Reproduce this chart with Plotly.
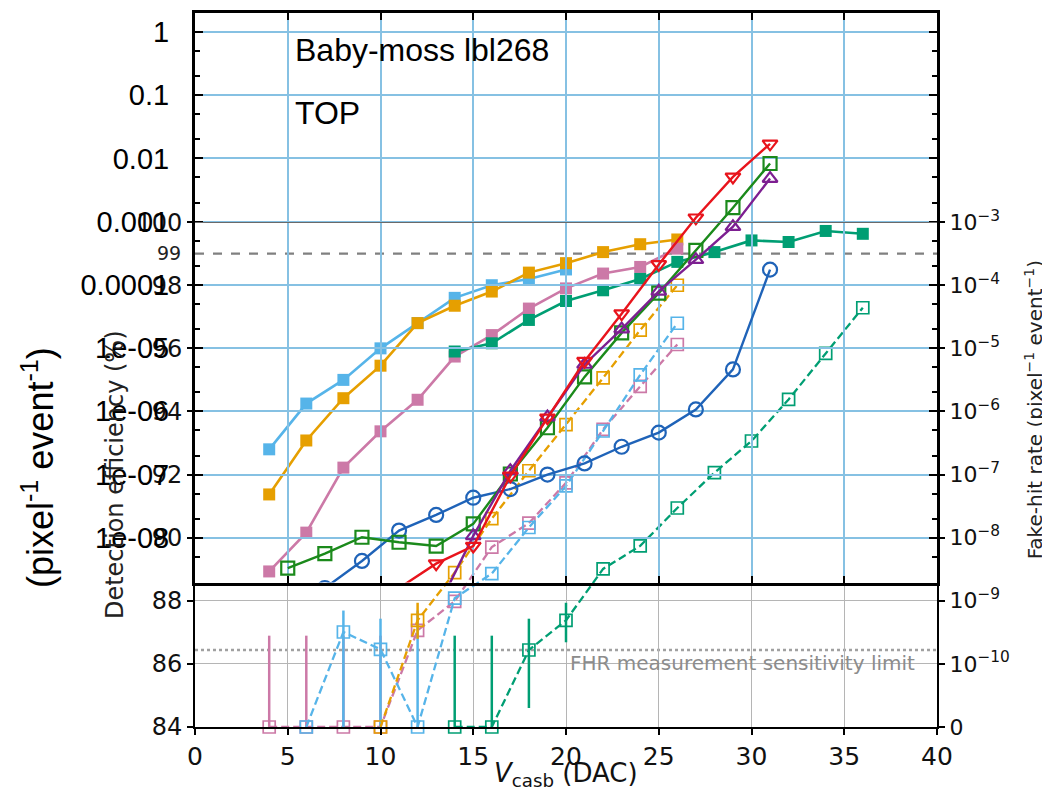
import plotly.graph_objects as go

# ---------------- data ----------------
# detection efficiency (%) vs Vcasb, filled squares
vcasb_eff_lb = [4, 6, 8, 10, 12, 14, 16, 18, 20]
eff_lb = [92.8, 94.25, 95.0, 96.0, 96.8, 97.6, 98.0, 98.2, 98.5]
vcasb_eff_or = [4, 6, 8, 10, 12, 14, 16, 18, 20, 22, 24, 26]
eff_or = [91.37, 93.08, 94.42, 95.45, 96.8, 97.35, 97.8, 98.4, 98.7, 99.05, 99.3, 99.45]
vcasb_eff_pk = [4, 6, 8, 10, 12, 14, 16, 18, 20, 22, 24, 26]
eff_pk = [88.93, 90.16, 92.22, 93.37, 94.37, 95.74, 96.42, 97.26, 97.9, 98.37, 98.58, 99.16]
vcasb_eff_gr = [14, 16, 18, 20, 22, 24, 26, 28, 30, 32, 34, 36]
eff_gr = [95.9, 96.16, 96.9, 97.5, 97.84, 98.2, 98.74, 99.05, 99.42, 99.37, 99.72, 99.63]

# fake-hit rate (pixel^-1 event^-1), open squares, dashed; 0 = no hit seen
vcasb_fhr_lb = [6, 8, 10, 12, 14, 16, 18, 20, 22, 24, 26]
fhr_lb = [0, 3.2e-10, 1.7e-10, 0, 1.1e-9, 2.7e-9, 1.45e-8, 6.6e-8, 4.9e-7, 3.8e-6, 2.5e-5]
fhr_lb_hi = [None, 7e-10, 5.2e-10, 7e-10, None, None, None, None, None, None, None]
vcasb_fhr_or = [10, 12, 14, 16, 18, 20, 22, 24, 26]
fhr_or = [0, 4.9e-10, 2.8e-9, 2.0e-8, 1.15e-7, 6.2e-7, 3.4e-6, 1.95e-5, 1.0e-4]
fhr_or_hi = [None, 9.3e-10, None, None, None, None, None, None, None]
fhr_or_lo = [None, 2.5e-10, None, None, None, None, None, None, None]
vcasb_fhr_pk = [4, 6, 8, 10, 12, 14, 16, 18, 20, 22, 24, 26]
fhr_pk = [0, 0, 0, 0, 3.4e-10, 9.8e-10, 7.1e-9, 1.7e-8, 7.4e-8, 5.2e-7, 2.5e-6, 1.15e-5]
fhr_pk_hi = [2.8e-10, 2.8e-10, 2.8e-10, 2.8e-10] + [None] * 8
vcasb_fhr_gr = [14, 16, 18, 20, 22, 24, 26, 28, 30, 32, 34, 36]
fhr_gr = [0, 0, 1.66e-10, 4.9e-10, 3.2e-9, 7.4e-9, 2.95e-8, 1.07e-7, 3.4e-7, 1.55e-6, 8.3e-6, 4.4e-5]
fhr_gr_hi = [2.8e-10, 2.8e-10, 5.2e-10, 9.3e-10] + [None] * 8
fhr_gr_lo = [None, None, 2e-11, 2.2e-10] + [None] * 8
fhr_limit = 1.66e-10

# overlaid log panel (solid lines, open markers)
vcasb_red = [11, 13, 15, 17, 19, 21, 23, 25, 27, 29, 31]
val_red = [1.6e-9, 3.9e-9, 7.4e-9, 9.5e-8, 7.9e-7, 6.2e-6, 3.5e-5, 2.1e-4, 1.15e-3, 5.1e-3, 1.7e-2]
vcasb_grn = [5, 7, 9, 11, 13, 15, 17, 19, 21, 23, 25, 27, 29, 31]
val_grn = [3.3e-9, 5.6e-9, 1.02e-8, 8.5e-9, 7.4e-9, 1.66e-8, 1.02e-7, 5.5e-7, 3.5e-6,
           1.74e-5, 7.4e-5, 3.5e-4, 1.66e-3, 8.3e-3]
vcasb_pur = [13, 15, 17, 19, 21, 23, 25, 27, 29, 31]
val_pur = [7e-10, 1.07e-8, 1.15e-7, 8.1e-7, 5.5e-6, 2.0e-5, 7.9e-5, 2.5e-4, 8.3e-4, 4.8e-3]
vcasb_blu = [7, 9, 11, 13, 15, 17, 19, 21, 23, 25, 27, 29, 31]
val_blu = [1.6e-9, 4.3e-9, 1.3e-8, 2.3e-8, 4.3e-8, 5.9e-8, 1.0e-7, 1.5e-7, 2.75e-7,
           4.6e-7, 1.07e-6, 4.6e-6, 1.74e-4]

eff_ticks = [84, 86, 88, 90, 92, 94, 96, 98, 100]
fhr_ticks = [1e-11, 1e-10, 1e-9, 1e-8, 1e-7, 1e-6, 1e-5, 1e-4, 1e-3]
fhr_ticktext = ["0"] + ["10<sup>\u2212%d</sup>" % e for e in range(10, 2, -1)]
log_ticks = [1, 0.1, 0.01, 0.001, 0.0001, 1e-05, 1e-06, 1e-07, 1e-08]

# ---------------- layout helpers ----------------
W, H = 1050, 792
OFF = 8  # the page body margin shifts the figure by 8 px
L, R, T, B = 195 - OFF, 937 - OFF, 10 - OFF, 727 - OFF
FHR_ZERO = 1e-11  # the "0" row of the right axis


def px(x):
    # screen pixel -> paper fraction
    return (x - OFF - L) / (R - L)


def py(y):
    return (B - (y - OFF)) / (B - T)


def floor0(vals):
    return [v if v > 0 else FHR_ZERO for v in vals]


def errs(vals, hi, lo=None):
    yv = floor0(vals)
    lo = lo or [None] * len(vals)
    plus = [(h - y) if h is not None else 0 for h, y in zip(hi, yv)]
    minus = []
    for y, l, h in zip(yv, lo, hi):
        if l is not None:
            minus.append(y - max(l, FHR_ZERO))
        elif h is not None:
            minus.append(y - FHR_ZERO)
        else:
            minus.append(0)
    return plus, minus


LB, OR, PK, GR = "#56B4E9", "#E69F00", "#CC79A7", "#009E73"

fig = go.Figure()

for xs, ys, c in [(vcasb_eff_lb, eff_lb, LB), (vcasb_eff_or, eff_or, OR),
                  (vcasb_eff_pk, eff_pk, PK), (vcasb_eff_gr, eff_gr, GR)]:
    fig.add_trace(go.Scatter(x=xs, y=ys, mode="lines+markers", xaxis="x", yaxis="y",
                             line=dict(color=c, width=2.6),
                             marker=dict(symbol="square", size=12, color=c)))

for xs, ys, hi, lo, c in [(vcasb_fhr_pk, fhr_pk, fhr_pk_hi, None, PK),
                          (vcasb_fhr_lb, fhr_lb, fhr_lb_hi, None, LB),
                          (vcasb_fhr_or, fhr_or, fhr_or_hi, fhr_or_lo, OR),
                          (vcasb_fhr_gr, fhr_gr, fhr_gr_hi, fhr_gr_lo, GR)]:
    plus, minus = errs(ys, hi, lo)
    fig.add_trace(go.Scatter(x=xs, y=floor0(ys), mode="lines+markers", xaxis="x", yaxis="y2",
                             line=dict(color=c, width=2.3, dash="8px,4px"),
                             marker=dict(symbol="square-open", size=12, color=c,
                                         line=dict(width=1.7)),
                             error_y=dict(type="data", array=plus, arrayminus=minus,
                                          color=c, thickness=2.5, width=0),
                             cliponaxis=False))

for xs, ys, c, sym, sz in [(vcasb_blu, val_blu, "#1f63b8", "circle-open", 14),
                           (vcasb_grn, val_grn, "#1b8a1b", "square-open", 13),
                           (vcasb_pur, val_pur, "#7d1f91", "triangle-up-open", 13),
                           (vcasb_red, val_red, "#e8141c", "triangle-down-open", 13)]:
    fig.add_trace(go.Scatter(x=xs, y=ys, mode="lines+markers", xaxis="x2", yaxis="y3",
                             line=dict(color=c, width=2.4),
                             marker=dict(symbol=sym, size=sz, color=c, line=dict(width=2.2))))

dv = "DejaVu Sans"
ls = "Liberation Sans"
minor_vals = [k * 10.0 ** e for e in range(-9, 1) for k in (2, 5)]

fig.update_layout(
    width=W, height=H, showlegend=False,
    margin=dict(l=L, r=W - R, t=T, b=H - B, pad=0),
    paper_bgcolor="white", plot_bgcolor="rgba(0,0,0,0)",
    xaxis=dict(domain=[0, 1], anchor="y", range=[0, 40], tickmode="array",
               tickvals=list(range(0, 41, 5)), ticks="outside", ticklen=6, tickwidth=1.5,
               tickcolor="black", showline=True, linecolor="black", linewidth=2,
               showgrid=True, gridcolor="#b5b5b5", gridwidth=1.2, zeroline=False,
               automargin=False,
               tickfont=dict(family=dv, size=25, color="#111")),
    yaxis=dict(domain=[0, py(220)], anchor="x", range=[84, 100], tickmode="array",
               tickvals=eff_ticks, ticks="outside", ticklen=6, tickwidth=1.5,
               tickcolor="black", showline=True, linecolor="black", linewidth=2,
               showgrid=True, gridcolor="#b5b5b5", gridwidth=1.2, zeroline=False,
               automargin=False,
               tickfont=dict(family=dv, size=24, color="#111")),
    yaxis2=dict(overlaying="y", anchor="x", side="right", type="log", range=[-11, -3],
                tickmode="array", tickvals=fhr_ticks, ticktext=fhr_ticktext,
                ticks="outside", ticklen=6, tickwidth=1.5, tickcolor="black",
                showline=True, linecolor="black", linewidth=2, showgrid=False,
                zeroline=False, automargin=False,
                tickfont=dict(family=dv, size=22, color="#111")),
    xaxis2=dict(domain=[0, 1], anchor="y3", range=[0, 40], tickmode="array",
                tickvals=list(range(0, 41, 5)), ticks="inside", ticklen=7, tickwidth=2,
                tickcolor="black", showticklabels=False, showline=True, linecolor="black",
                linewidth=2.5, mirror="allticks", showgrid=True, gridcolor="#86c1e3",
                gridwidth=1.5, zeroline=False),
    yaxis3=dict(domain=[py(582), 1], anchor="x2", type="log", range=[-8.709, 0.299],
                tickmode="array", tickvals=log_ticks, ticktext=[str(v) for v in log_ticks],
                ticks="inside", ticklen=8, tickwidth=2, tickcolor="black",
                ticklabelstandoff=17, automargin=False,
                minor=dict(tickmode="array", tickvals=minor_vals, ticks="inside",
                           ticklen=5, tickcolor="black", showgrid=False),
                showline=True, linecolor="black", linewidth=3, mirror="allticks",
                showgrid=True, gridcolor="#86c1e3", gridwidth=1.5, zeroline=False,
                tickfont=dict(family=ls, size=29, color="black")),
)

# reference lines
fig.add_shape(type="line", xref="x", yref="y", x0=0, x1=40, y0=99, y1=99,
              line=dict(color="#808080", width=2.2, dash="dash"), layer="between")
fig.add_shape(type="line", xref="x", yref="y2", x0=0, x1=40, y0=fhr_limit, y1=fhr_limit,
              line=dict(color="#a0a0a0", width=2.4, dash="dot"), layer="below")
fig.add_shape(type="line", xref="x", yref="y", x0=0, x1=40, y0=100, y1=100,
              line=dict(color="#6a6a6a", width=2), layer="above")

ann = [
    dict(text="Baby-moss lbl268", x=px(293), y=py(47), xanchor="left",
         font=dict(family=ls, size=32, color="black")),
    dict(text="TOP", x=px(293), y=py(110), xanchor="left",
         font=dict(family=ls, size=32, color="black")),
    dict(text="(pixel<sup>-1</sup> event<sup>-1</sup>)", x=px(38), y=py(467),
         textangle=-90, font=dict(family=ls, size=36, color="black")),
    dict(text="Detection efficiency (%)", x=px(115), y=py(474), textangle=-90,
         font=dict(family=dv, size=24, color="#222")),
    dict(text="Fake-hit rate (pixel<sup>\u22121</sup> event<sup>\u22121</sup>)",
         x=px(1034), y=py(409), textangle=-90, font=dict(family=dv, size=20, color="#222")),
    dict(text="FHR measurement sensitivity limit", x=px(917), y=py(663), xanchor="right",
         font=dict(family=dv, size=20, color="#8c8c8c")),
    dict(text="99", x=px(183), y=py(251), xanchor="right",
         font=dict(family=dv, size=19, color="#222")),
    dict(text="<i>V</i><sub>casb</sub> (DAC)", x=px(566), y=py(775),
         font=dict(family=dv, size=26, color="#111")),
]
for a in ann:
    a.setdefault("xanchor", "center")
    fig.add_annotation(xref="paper", yref="paper", yanchor="middle", showarrow=False, **a)

fig.write_html("out.html")
